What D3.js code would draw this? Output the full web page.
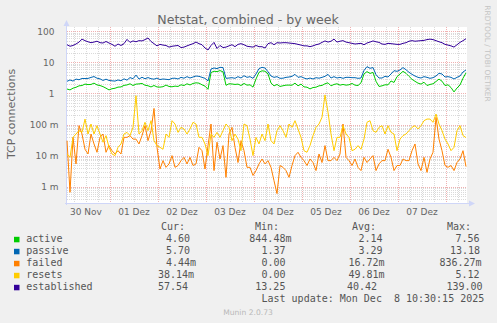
<!DOCTYPE html>
<html>
<head>
<meta charset="utf-8">
<script src="https://cdn.jsdelivr.net/npm/d3@7"></script>
<style>
  body { margin: 0; background: #f0f0f0; }
  svg { display: block; }
  text { font-family: "DejaVu Sans", sans-serif; fill: #666; }
  .mono { font-family: "DejaVu Sans Mono", monospace; white-space: pre; fill: #555; }
</style>
</head>
<body>
<svg id="chart" width="497" height="323"></svg>
<script>
// Sampling: one point every 1.5 h starting 30 Nov 02:30
const startTime = Date.UTC(2025, 10, 30, 2, 30);
const endTime = Date.UTC(2025, 11, 8, 10, 30);
const stepHours = 1.5;

const active = [
  1.39,1.30,1.48,1.58,1.76,1.80,2.00,1.93,1.95,2.15,1.88,1.80,1.66,1.48,1.30,1.42,1.47,1.60,1.62,1.82,1.88,2.05,1.80,2.00,2.03,2.10,1.84,1.77,1.62,1.80,1.62,1.60,1.65,
  1.86,1.68,1.64,1.72,1.68,1.90,1.80,2.05,1.88,2.10,2.20,2.15,1.90,1.72,1.36,4.70,5.20,5.05,5.45,4.95,1.83,2.05,2.02,1.95,2.00,1.80,2.10,1.85,1.90,1.60,2.92,4.80,5.35,5.20,
  4.23,2.17,1.75,1.95,1.68,1.77,1.85,1.86,1.84,2.15,1.76,2.00,1.63,1.59,1.40,1.55,1.59,1.76,1.81,2.05,2.20,1.76,1.95,2.05,1.85,1.95,1.85,1.90,2.10,1.85,1.80,2.20,4.23,
  5.05,4.40,4.75,2.46,1.68,1.76,1.90,1.89,2.52,2.26,3.47,4.23,5.15,4.45,3.55,2.85,2.46,2.15,2.00,2.30,1.80,1.95,2.05,2.42,2.90,2.48,1.80,1.90,1.55,1.12,1.50,1.87,3.10,4.60
];
const passive = [
  2.46,2.72,2.50,2.90,2.76,3.04,3.02,3.05,3.28,3.50,3.10,2.95,2.62,2.88,2.62,2.55,2.50,2.72,2.56,2.95,2.68,3.25,2.98,3.90,2.90,3.32,2.98,3.25,2.98,2.88,3.12,2.80,2.92,
  2.85,2.78,3.07,3.10,2.92,3.30,3.10,3.47,3.14,3.38,3.64,3.55,3.30,3.07,2.52,6.12,6.60,6.30,6.93,6.80,3.07,3.14,3.22,3.07,3.47,3.14,3.73,3.30,3.47,3.07,4.23,6.30,6.93,6.60,
  5.00,3.64,3.30,3.47,3.07,3.10,3.30,3.38,3.55,4.13,3.30,3.47,3.14,2.92,3.14,2.92,3.22,3.10,3.30,3.55,4.13,3.14,3.47,3.14,3.30,3.07,3.30,3.30,3.22,3.22,3.07,3.14,5.50,
  7.30,6.45,6.80,4.02,3.14,3.14,3.55,3.38,4.23,5.41,5.15,5.70,6.80,5.80,4.79,4.13,3.64,3.30,3.14,3.47,3.30,3.07,3.22,3.64,4.45,4.23,3.38,3.47,3.30,2.92,3.30,3.64,4.90,5.70
];
const failed = [
  0.0303,0.00066,0.0387,0.0054,0.092,0.0496,0.016,0.0113,0.0496,0.0237,0.0128,0.0387,0.0496,0.0128,0.021,0.0144,0.0113,0.0144,0.0113,0.0387,0.0387,0.044,0.034,0.034,0.0237,0.044,0.092,0.0303,0.0635,0.33,0.0185,0.0037,0.0069,
  0.0042,0.0054,0.010,0.0042,0.0048,0.0069,0.0088,0.0054,0.0088,0.0048,0.0054,0.0185,0.0144,0.0037,0.021,0.104,0.0033,0.027,0.0078,0.021,0.0020,0.0496,0.0813,0.0185,0.006,0.0303,0.0144,0.0042,0.0042,0.0023,0.0033,0.0054,0.0078,0.0054,
  0.0069,0.0042,0.00156,0.0006,0.0048,0.0042,0.0033,0.0020,0.0048,0.010,0.0128,0.0088,0.0069,0.0048,0.0078,0.006,0.0033,0.0113,0.006,0.021,0.0069,0.0069,0.0088,0.0069,0.0113,0.104,0.0088,0.0069,0.0048,0.0078,0.0042,0.0033,0.0088,
  0.006,0.0078,0.010,0.0033,0.0054,0.0069,0.0069,0.016,0.0088,0.0033,0.0048,0.0048,0.0078,0.0069,0.0069,0.0144,0.0237,0.0054,0.0033,0.0088,0.0029,0.0078,0.0128,0.171,0.034,0.0144,0.0048,0.0042,0.0048,0.0033,0.006,0.0078,0.0144,0.00444
];
const resets = [
  0.0113,0.0088,0.0387,0.0496,0.0635,0.056,0.15,0.0496,0.104,0.0496,0.092,0.0496,0.027,0.044,0.0185,0.0113,0.010,0.0185,0.0237,0.0496,0.056,0.044,0.0813,0.85,0.0496,0.0635,0.118,0.0635,0.133,0.0303,0.021,0.0185,0.016,
  0.0496,0.0387,0.133,0.104,0.056,0.0813,0.072,0.0496,0.072,0.118,0.104,0.0387,0.0387,0.0237,0.010,0.0496,0.0387,0.056,0.0387,0.0635,0.104,0.0813,0.0303,0.0496,0.034,0.0144,0.104,0.092,0.034,0.010,0.0387,0.0237,0.0496,0.0303,
  0.104,0.0303,0.0237,0.0635,0.092,0.0635,0.0387,0.104,0.0813,0.133,0.072,0.0387,0.0144,0.0128,0.021,0.044,0.0813,0.104,0.171,0.9,0.25,0.0496,0.0144,0.0387,0.0387,0.092,0.0496,0.0387,0.0144,0.016,0.021,0.016,0.034,
  0.118,0.133,0.0635,0.056,0.0813,0.092,0.0496,0.092,0.056,0.0496,0.0144,0.034,0.044,0.0496,0.0635,0.0813,0.092,0.072,0.092,0.133,0.15,0.15,0.118,0.218,0.104,0.0635,0.034,0.0237,0.0144,0.0185,0.0635,0.092,0.044,0.03814
];
const established = [
  37,33,35,39,45,56,50,46,43,45,48,43,42,47,42,38,33,39,35,40,55,44,49,46,50,49,54,61,47,40,34,38,36,
  35,31,33,34,35,30,31,34,37,40,45,40,37,29,25,35,44,28,35,30,31,34,37,32,38,40,37,33,32,31,35,32,32,29,
  40,43,37,43,42,43,43,42,41,40,38,36,34,34,32,34,37,39,44,49,45,48,56,45,48,50,45,43,41,39,40,41,37,
  42,45,49,46,44,39,38,41,40,39,38,38,41,43,48,50,48,49,50,51,54,56,54,50,46,43,38,36,34,31,37,44,50,57.54
];

const seriesNames = ["active", "passive", "failed", "resets", "established"];
const seriesColors = ["#00cc00", "#0066b3", "#ff8000", "#ffcc00", "#330099"];
const seriesData = [active, passive, failed, resets, established];

const curValues = ["4.60", "5.70", "4.44m", "38.14m", "57.54"];
const minValues = ["844.48m", "1.37", "0.00", "0.00", "13.25"];
const avgValues = ["2.14", "3.29", "16.72m", "49.81m", "40.42"];
const maxValues = ["7.56", "13.18", "836.27m", "5.12", "139.00"];

const yTickValues = [0.001, 0.01, 0.1, 1, 10, 100];
const yTickLabels = ["1 m", "10 m", "100 m", "1", "10", "100"];

const titleText = "Netstat, combined - by week";
const yAxisTitle = "TCP connections";
const lastUpdate = "Last update: Mon Dec  8 10:30:15 2025";
const footerText = "Munin 2.0.73";
const sideText = "RRDTOOL / TOBI OETIKER";

// ---- layout ----
const svg = d3.select("#chart");
const plotLeft = 67, plotRight = 467, plotTop = 27, plotBottom = 203;

const x = d3.scaleUtc().domain([startTime, endTime]).range([plotLeft, plotRight]);
const y = d3.scaleLog().domain([0.001, 100]).range([186.7, 31.3]);

svg.append("rect").attr("width", 497).attr("height", 323).attr("fill", "#f0f0f0");
svg.append("rect")
  .attr("x", plotLeft).attr("y", plotTop)
  .attr("width", plotRight - plotLeft).attr("height", plotBottom - plotTop)
  .attr("fill", "#ffffff");

const grid = svg.append("g").attr("shape-rendering", "crispEdges");
const minorColor = "rgba(140,140,140,0.32)";
const majorColor = "rgba(222,81,81,0.45)";

// horizontal minor grid lines inside each log decade
const yLo = y.invert(plotBottom), yHi = y.invert(plotTop);
for (let e = -4; e <= 2; e++) {
  const d = Math.pow(10, e);
  for (let k = 2; k <= 9; k++) {
    const v = k * d;
    if (v < yLo || v > yHi) continue;
    const py = Math.round(y(v)) + 0.5;
    grid.append("line").attr("x1", plotLeft).attr("x2", plotRight)
      .attr("y1", py).attr("y2", py)
      .attr("stroke", minorColor).attr("stroke-dasharray", "1,1");
  }
}
// vertical grid: every 6 hours, midnights are major
const hours = d3.utcHour.every(6).range(new Date(startTime), new Date(endTime));
hours.forEach(t => {
  const px = Math.round(x(t)) + 0.5;
  const major = t.getUTCHours() === 0;
  grid.append("line").attr("x1", px).attr("x2", px)
    .attr("y1", plotTop).attr("y2", plotBottom)
    .attr("stroke", major ? majorColor : minorColor)
    .attr("stroke-dasharray", "1,1");
});
// decade lines
yTickValues.forEach(v => {
  const py = Math.round(y(v)) + 0.5;
  grid.append("line").attr("x1", plotLeft).attr("x2", plotRight)
    .attr("y1", py).attr("y2", py)
    .attr("stroke", majorColor).attr("stroke-dasharray", "1,1");
});

// y tick labels
yTickValues.forEach((v, i) => {
  const lbl = yTickLabels[i];
  svg.append("text")
    .attr("x", lbl.endsWith("m") ? 58.5 : 54.5)
    .attr("y", y(v) + 3.3)
    .attr("text-anchor", "end")
    .style("font-size", "9px")
    .text(lbl);
});

// x labels centred at noon of each day
const fmt = d => {
  const m = d.getUTCMonth() === 10 ? "Nov" : "Dez";
  return d3.utcFormat("%d")(d) + " " + m;
};
d3.utcDay.range(new Date(Date.UTC(2025, 10, 30)), new Date(endTime)).forEach(day => {
  const noon = d3.utcHour.offset(day, 12);
  if (noon < startTime || noon > endTime) return;
  svg.append("text")
    .attr("x", x(noon)).attr("y", 215)
    .attr("text-anchor", "middle")
    .style("font-size", "9px")
    .text(fmt(day));
});

// axes with arrow heads
const axisColor = "#cfd6f8";
svg.append("line").attr("x1", plotLeft - 0.5).attr("x2", plotLeft - 0.5)
  .attr("y1", plotBottom + 2).attr("y2", 24).attr("stroke", axisColor);
svg.append("path").attr("d", `M${plotLeft - 3.5},26 L${plotLeft - 0.5},20 L${plotLeft + 2.5},26 Z`).attr("fill", axisColor);
svg.append("line").attr("x1", plotLeft - 2).attr("x2", plotRight + 3)
  .attr("y1", plotBottom + 0.5).attr("y2", plotBottom + 0.5).attr("stroke", axisColor);
svg.append("path").attr("d", `M${plotRight + 2},${plotBottom - 2.5} L${plotRight + 8},${plotBottom + 0.5} L${plotRight + 2},${plotBottom + 3.5} Z`).attr("fill", axisColor);

// series lines
const lineGen = d3.line()
  .defined(v => v > 0)
  .x((v, i) => x(startTime + i * stepHours * 3600e3))
  .y(v => y(v));
const plot = svg.append("g");
seriesData.forEach((s, k) => {
  plot.append("path").datum(s)
    .attr("fill", "none")
    .attr("stroke", seriesColors[k])
    .attr("stroke-width", 1)
    .attr("stroke-linejoin", "round")
    .attr("d", lineGen);
});

// title and side texts
svg.append("text").attr("x", 248).attr("y", 24).attr("text-anchor", "middle")
  .style("font-size", "12.6px").text(titleText);
svg.append("text").attr("transform", "translate(15,114) rotate(-90)")
  .attr("text-anchor", "middle").style("font-size", "11px").text(yAxisTitle);
svg.append("text").attr("transform", "translate(484.5,53.5) rotate(90)")
  .attr("text-anchor", "middle").style("font-size", "7.5px").style("fill", "#c4c4c4").text(sideText);

// legend
const legend = svg.append("g");
const rowBase = 242.3, rowStep = 12;
const mono = (tx, ty, str) => legend.append("text").attr("class", "mono")
  .attr("x", tx).attr("y", ty).style("font-size", "10px").text(str);

mono(161, 230.3, "Cur:");
mono(255, 230.3, "Min:");
mono(352, 230.3, "Avg:");
mono(447, 230.3, "Max:");

const curX = [166, 166, 166, 158, 158];
const minX = [249.3, 261.5, 261.5, 261.5, 255.3];
const avgX = [358.5, 358.5, 348.5, 348.5, 347];
const maxX = [455.5, 450, 439.5, 455.5, 446.5];

seriesNames.forEach((name, i) => {
  const by = rowBase + i * rowStep;
  legend.append("rect").attr("x", 14).attr("y", by - 5.5)
    .attr("width", 5.5).attr("height", 5.5).attr("fill", seriesColors[i]);
  mono(26.3, by, name);
  mono(curX[i], by, curValues[i]);
  mono(minX[i], by, minValues[i]);
  mono(avgX[i], by, avgValues[i]);
  mono(maxX[i], by, maxValues[i]);
});
mono(261.5, rowBase + 5 * rowStep, lastUpdate);

svg.append("text").attr("x", 248).attr("y", 315).attr("text-anchor", "middle")
  .style("font-size", "7.6px").style("fill", "#b8b8b8").text(footerText);
</script>
</body>
</html>
